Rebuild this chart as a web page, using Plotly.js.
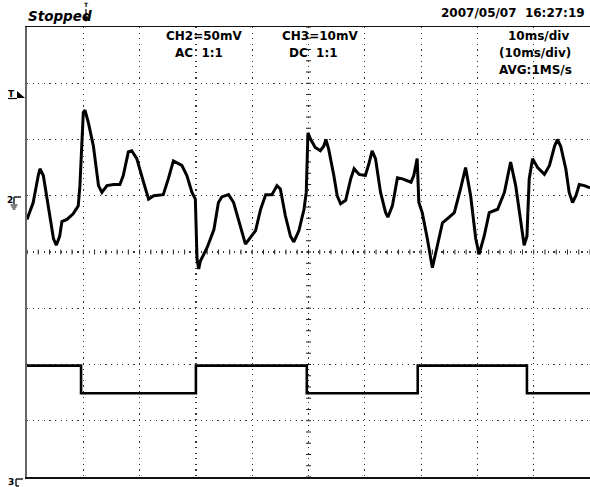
<!DOCTYPE html>
<html><head><meta charset="utf-8">
<script src="https://cdn.plot.ly/plotly-3.0.1.min.js"></script>
<style>html,body{margin:0;padding:0;background:#fff;overflow:hidden}#chart{width:590px;height:487px}</style>
</head><body><div id="chart"></div>
<script>
// ---- data ----
// CH2 (50 mV/div, AC) : time in ms, value in mV relative to its ground marker
const ch2Time = [0, 1.1, 2.0, 2.3, 2.9, 4.1, 4.7, 5.2, 5.8, 6.2, 7.1, 8.2, 9.1, 9.4, 9.7, 10.0, 10.3, 10.9, 11.8, 12.7,
  13.3, 14.2, 15.4, 16.5, 17.1, 18.0, 18.6, 19.5, 20.7, 21.6, 22.5, 24.2, 25.1, 26.0, 27.5, 28.4, 29.3, 29.9, 30.2, 30.5,
  30.8, 32.0, 33.2, 34.0, 34.6, 35.8, 36.7, 37.9, 38.8, 39.7, 40.6, 41.5, 42.4, 43.5, 44.4, 45.0, 45.9, 46.8, 47.4, 48.3,
  49.2, 49.6, 49.9, 50.4, 51.2, 52.1, 52.7, 53.1, 53.6, 54.5, 55.1, 55.7, 56.6, 57.5, 58.1, 59.0, 60.1, 60.7, 61.3, 61.9,
  62.8, 63.7, 64.1, 64.9, 65.8, 66.7, 68.2, 68.7, 69.3, 69.6, 70.2, 71.1, 72.0, 72.9, 73.8, 75.0, 75.9, 77.0, 77.9, 78.8,
  79.7, 80.3, 81.2, 82.1, 83.6, 84.8, 85.9, 86.8, 87.7, 88.3, 88.8, 89.2, 89.8, 90.7, 91.9, 92.8, 93.7, 94.2, 94.8, 95.7,
  96.3, 96.9, 97.5, 98.1, 99.0, 100];
const ch2mV = [-21, -6, 18, 24, 18, -21, -38, -44, -36, -23, -21, -16, -9, 9, 44, 74, 76, 65, 44, 9,
  3, 9, 10, 10, 18, 39, 40, 33, 12, -3, 0, 1, 15, 31, 27, 18, 3, -3, -56, -65,
  -58, -46, -30, -6, -1, 1, -6, -27, -43, -37, -31, -12, 1, 1, 9, 6, -18, -36, -41, -31,
  -12, 3, 56, 50, 43, 40, 44, 50, 41, 18, 0, -7, -4, 15, 24, 19, 18, 28, 40, 33,
  3, -15, -19, -9, 16, 15, 12, 18, 33, -6, -15, -38, -64, -44, -24, -19, -15, 6, 25, 0,
  -38, -52, -36, -15, -12, 3, 30, 9, -24, -44, -36, 15, 33, 25, 19, 27, 44, 50, 44, 24,
  3, -6, 0, 10, 9, 7];
// CH3 (10 mV/div, DC) square wave: level change times (ms) and levels (mV)
const ch3Time = [0, 9.6, 30.0, 49.7, 69.4, 88.8, 100];
const ch3mV = [19.8, 14.9, 19.8, 14.9, 19.8, 14.9, 14.9];

// ---- texts ----
const statusText = "Stopped";
const dateText = "2007/05/07\u00a0\u00a016:27:19";
const ch2Scale = "CH2=50mV", ch2Coupling = "AC\u00a0\u00a01:1";
const ch3Scale = "CH3=10mV", ch3Coupling = "DC\u00a0\u00a01:1";
const timeBase = "10ms/div", timeBase2 = "(10ms/div)", acqText = "AVG:1MS/s";

// ---- layout geometry ----
const W = 590, H = 487, L = 27, R = 0, T = 27, B = 10;
const pw = W - L - R, ph = H - T - B;
const px = x => (x - L) / pw;
const py = y => (H - B - y) / ph;

const font = {family: "DejaVu Sans", size: 12, weight: "bold", color: "#000"};
function txt(text, x, y, xanchor, extra) {
  return Object.assign({text, xref: "paper", yref: "paper", x: px(x), y: py(y), xanchor: xanchor || "center",
    yanchor: "middle", showarrow: false, font: font}, extra || {});
}

const shapes = [];
// crosshair ticks on the centre lines (every 1/5 division)
for (let t = 0; t <= 100; t += 2) {
  shapes.push({type: "line", xref: "x", yref: "paper", x0: t, x1: t, y0: 0.5 - 2.5 / ph, y1: 0.5 + 2.5 / ph,
    line: {color: "#222", width: 1}, layer: "below"});
}
for (let v = -250; v <= 150; v += 10) {
  shapes.push({type: "line", xref: "paper", yref: "y", x0: 0.5 - 2.5 / pw, x1: 0.5 + 2.5 / pw, y0: v, y1: v,
    line: {color: "#222", width: 1}, layer: "below"});
}
const seg = (x0, y0, x1, y1, w) => ({type: "line", xref: "paper", yref: "paper", x0: px(x0), y0: py(y0),
  x1: px(x1), y1: py(y1), line: {color: "#000", width: w || 1.3}});
// trigger level marker triangle
shapes.push({type: "path", xref: "paper", yref: "paper",
  path: `M ${px(17)} ${py(91)} L ${px(17)} ${py(98)} L ${px(25)} ${py(98)} Z`, fillcolor: "#000", line: {width: 0}});
shapes.push(seg(8, 98.5, 17, 98.5, 1.2));
// CH2 ground marker
shapes.push(seg(14, 197, 21, 197), seg(14, 197, 14, 204));
shapes.push(seg(10.5, 205, 17.5, 205, 1), seg(11.5, 207, 16.5, 207, 1), seg(12.5, 209, 15.5, 209, 1));
// CH3 ground marker
shapes.push(seg(16, 479, 23, 479), seg(16, 479, 16, 486), seg(16, 486, 19, 486));

const annotations = [
  txt(statusText, 26, 16, "left", {font: Object.assign({}, font, {size: 13.5, style: "italic"})}),
  txt(dateText, 587, 12.5, "right"),
  txt(ch2Scale, 204, 36), txt(ch2Coupling, 199, 53),
  txt(ch3Scale, 320, 36), txt(ch3Coupling, 313, 53),
  txt(timeBase, 538, 36), txt(timeBase2, 535, 53), txt(acqText, 535, 70),
  txt("T", 11.5, 94, "center", {font: Object.assign({}, font, {size: 9})}),
  txt("2", 10, 200, "center", {font: Object.assign({}, font, {size: 9})}),
  txt("3", 10.5, 482, "center", {font: Object.assign({}, font, {size: 9})}),
  {text: "T", xref: "paper", yref: "paper", x: px(86), y: py(22), showarrow: true, ax: 0, ay: -18,
    arrowhead: 2, arrowsize: 0.9, arrowwidth: 1.2, arrowcolor: "#000", font: {family: "DejaVu Sans", size: 6, weight: "bold", color: "#000"}}
];

const traces = [
  {x: ch2Time, y: ch2mV, type: "scatter", mode: "lines", line: {color: "#000", width: 3}, yaxis: "y", name: "CH2"},
  {x: ch3Time, y: ch3mV, type: "scatter", mode: "lines", line: {color: "#000", width: 2.6, shape: "hv"}, yaxis: "y2", name: "CH3"}
];

const gridDash = "1.2px,4.4px";
const layout = {
  width: W, height: H, margin: {l: L, r: R, t: T, b: B, pad: 0},
  paper_bgcolor: "#fff", plot_bgcolor: "#fff", showlegend: false,
  xaxis: {range: [0, 100], dtick: 10, tick0: 0, showgrid: true, gridcolor: "#333", gridwidth: 1.2, griddash: gridDash,
    showticklabels: false, ticks: "", zeroline: false, showline: true, mirror: true, linecolor: "#111", linewidth: 1.5, fixedrange: true},
  yaxis: {range: [-250, 150], dtick: 50, tick0: 0, showgrid: true, gridcolor: "#333", gridwidth: 1.2, griddash: gridDash,
    showticklabels: false, ticks: "", zeroline: false, showline: true, mirror: false, linecolor: "#666", linewidth: 2, fixedrange: true},
  yaxis2: {range: [0, 80], overlaying: "y", visible: false, showgrid: false, zeroline: false, fixedrange: true},
  shapes, annotations
};
Plotly.newPlot("chart", traces, layout, {displayModeBar: false, staticPlot: true});
</script></body></html>
